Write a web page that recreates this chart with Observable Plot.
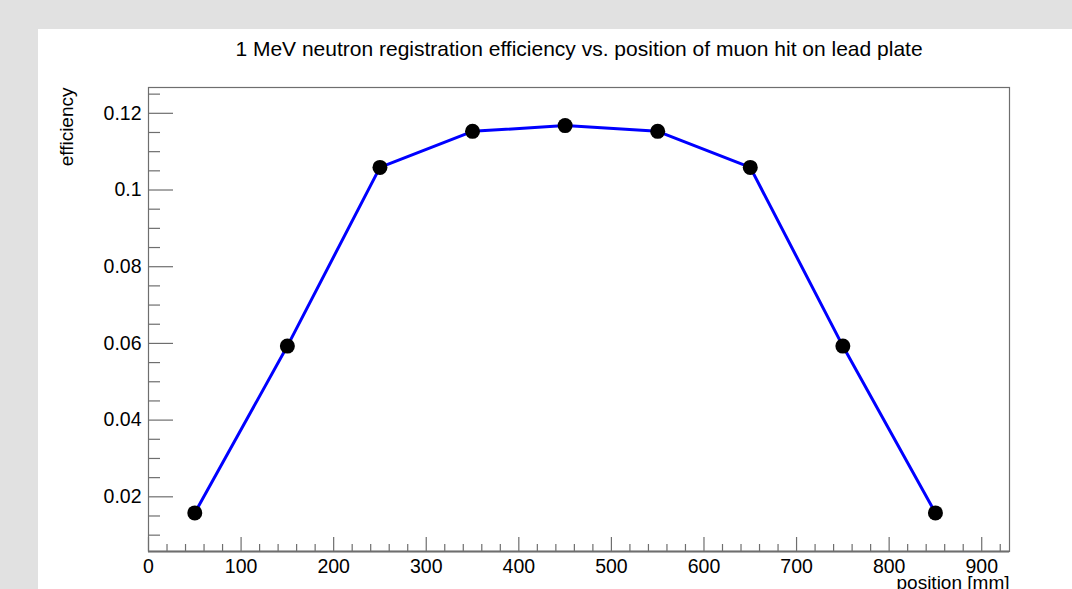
<!DOCTYPE html>
<html><head><meta charset="utf-8">
<script src="https://cdn.jsdelivr.net/npm/d3@7"></script>
<script src="https://cdn.jsdelivr.net/npm/@observablehq/plot@0.6"></script>
<style>
html,body{margin:0;padding:0;background:#e1e1e1;width:1072px;height:589px;overflow:hidden}
#panel{position:absolute;left:38px;top:29px;width:1034px;height:560px;background:#fff}
#panel svg{display:block}
</style></head><body><div id="panel"></div>
<script>
const positions = [50, 150, 250, 350, 450, 550, 650, 750, 850];
const efficiency = [0.0158, 0.0593, 0.1059, 0.1153, 0.1168, 0.1153, 0.1059, 0.0593, 0.0158];
const xMajorTicks = [0, 100, 200, 300, 400, 500, 600, 700, 800, 900];
const xMinorTicks = [20, 40, 60, 80, 120, 140, 160, 180, 220, 240, 260, 280, 320, 340, 360, 380, 420, 440, 460, 480, 520, 540, 560, 580, 620, 640, 660, 680, 720, 740, 760, 780, 820, 840, 860, 880, 920];
const yMajorTicks = [0.02, 0.04, 0.06, 0.08, 0.1, 0.12];
const yMinorTicks = [0.01, 0.015, 0.025, 0.03, 0.035, 0.045, 0.05, 0.055, 0.065, 0.07, 0.075, 0.085, 0.09, 0.095, 0.105, 0.11, 0.115, 0.125];
const titleText = "1 MeV neutron registration efficiency vs. position of muon hit on lead plate";
const xLabel = "position [mm]";
const yLabel = "efficiency";

const data = positions.map((p, i) => ({position: p, efficiency: efficiency[i]}));
const axisColor = "#6e6e6e";

const chart = Plot.plot({
  width: 1034,
  height: 560,
  marginLeft: 110,
  marginTop: 58,
  marginRight: 63,
  marginBottom: 38,
  style: {fontFamily: "'Liberation Sans', Arial, Helvetica, sans-serif", fontSize: "19.5px", background: "transparent", color: "#000"},
  x: {domain: [0, 930]},
  y: {domain: [0.00574, 0.12673]},
  marks: [
    Plot.frame({stroke: axisColor, strokeWidth: 1.2}),
    Plot.axisX(xMajorTicks, {tickSize: -14, tickPadding: 22, stroke: axisColor, strokeWidth: 1.2, tickFormat: d => String(d), label: null, fontSize: 19.5}),
    Plot.axisX(xMinorTicks, {tickSize: -7, stroke: axisColor, strokeWidth: 1.2, tickFormat: () => "", label: null}),
    Plot.axisY(yMajorTicks, {tickSize: -25, tickPadding: 32, stroke: axisColor, strokeWidth: 1.2, tickFormat: d => String(+d.toFixed(3)), label: null, fontSize: 19.5}),
    Plot.axisY(yMinorTicks, {tickSize: -12, stroke: axisColor, strokeWidth: 1.2, tickFormat: () => "", label: null}),
    Plot.ruleY([0.00574], {stroke: axisColor, strokeWidth: 2}),
    Plot.line(data, {x: "position", y: "efficiency", stroke: "#0000ff", strokeWidth: 3}),
    Plot.dot(data, {x: "position", y: "efficiency", r: 7.5, fill: "#000", stroke: "none"}),
    Plot.text([titleText], {text: d => d, frameAnchor: "top", lineAnchor: "bottom", dy: -32, fontSize: 21}),
    Plot.text([xLabel], {text: d => d, frameAnchor: "bottom-right", textAnchor: "end", lineAnchor: "bottom", dy: 37, fontSize: 19}),
    Plot.text([yLabel], {text: d => d, frameAnchor: "top-left", textAnchor: "end", lineAnchor: "bottom", rotate: -90, dx: -76, fontSize: 19})
  ]
});
document.getElementById("panel").appendChild(chart);
</script>
</body></html>
